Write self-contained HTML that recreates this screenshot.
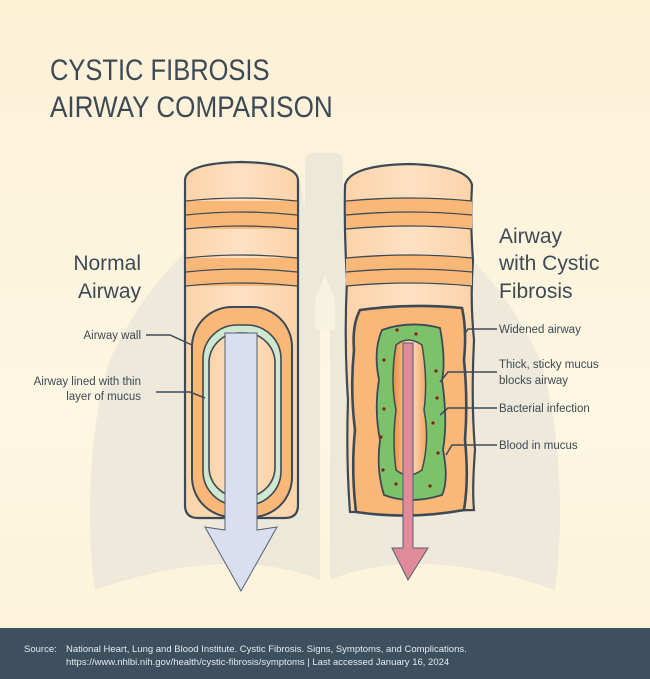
<!DOCTYPE html>
<html><head><meta charset="utf-8"><style>
html,body{margin:0;padding:0}
body{width:650px;height:679px;overflow:hidden;background:linear-gradient(180deg,#fdf1d6 0%,#fdf6e2 60%,#fdf3d9 100%);font-family:"Liberation Sans",sans-serif;position:relative}
svg{position:absolute;left:0;top:0}
</style></head><body>
<svg width="650" height="679" viewBox="0 0 650 679">
<defs>
<linearGradient id="pe" x1="0" x2="1"><stop offset="0" stop-color="#fcd3a8"/><stop offset="0.5" stop-color="#fde1c4"/><stop offset="1" stop-color="#fcd3a8"/></linearGradient>
<linearGradient id="lum" x1="0" x2="1"><stop offset="0" stop-color="#e8903f"/><stop offset="0.55" stop-color="#fcd9b5"/><stop offset="1" stop-color="#f2a865"/></linearGradient>
</defs>
<g fill="#ece8d9" opacity="0.9">
<rect x="305" y="153" width="38" height="170" rx="8"/>
<path d="M300 180 C230 200 150 270 110 360 C90 420 85 520 95 590 C180 560 260 555 320 580 L320 300 Z"/>
<path d="M348 180 C420 200 500 270 540 360 C560 420 565 520 555 590 C470 560 390 555 330 580 L330 300 Z"/>
</g>
<path d="M315 300 L325 275 L335 300 L335 330 L315 330 Z" fill="#f8f2e0"/>
<path d="M185 180 Q186 163 241 162 Q297 163 298 180 L298 505 Q298 518 285 518 L198 518 Q185 518 185 505 Z" fill="url(#pe)" stroke="#3d4a55" stroke-width="2.2"/>
<rect x="186" y="201" width="111" height="28" fill="#f9b878"/>
<rect x="186" y="258" width="111" height="28" fill="#f9b878"/>
<g stroke="#3d4a55" stroke-width="1.3" fill="none">
<path d="M186 201 Q241 195 297 201"/><path d="M186 215 Q241 209 297 215"/><path d="M186 229 Q241 223 297 229"/>
<path d="M186 258 Q241 252 297 258"/><path d="M186 272 Q241 266 297 272"/><path d="M186 286 Q241 280 297 286"/>
</g>
<rect x="192" y="307" width="100" height="210" rx="40" fill="#f9b878" stroke="#3d4a55" stroke-width="2"/>
<rect x="203" y="325" width="78" height="180" rx="34" fill="#cfe8cf" stroke="#3d4a55" stroke-width="1.6"/>
<rect x="209" y="333" width="66" height="164" rx="30" fill="url(#pe)" stroke="#3d4a55" stroke-width="1.6"/>
<path d="M225 333 L257 333 L257 530 L277 527 L241 591 L205 527 L225 530 Z" fill="#d9def0" stroke="#556070" stroke-width="1"/>
<path d="M345 185 Q350 165 410 164 Q468 166 472 185 Q470 220 473 260 Q470 300 474 340 Q471 400 475 450 Q472 490 474 510 L350 512 Q346 460 348 400 Q344 340 347 280 Q344 230 345 185 Z" fill="url(#pe)" stroke="#3d4a55" stroke-width="2.2"/>
<path d="M346 201 Q410 195 472 201 L472 229 Q410 223 346 229 Z" fill="#f9b878"/>
<path d="M346 258 Q410 252 472 258 L472 286 Q410 280 346 286 Z" fill="#f9b878"/>
<g stroke="#3d4a55" stroke-width="1.3" fill="none">
<path d="M346 201 Q410 195 472 201"/><path d="M346 215 Q410 209 472 215"/><path d="M346 229 Q410 223 472 229"/>
<path d="M346 258 Q410 252 472 258"/><path d="M346 272 Q410 266 472 272"/><path d="M346 286 Q410 280 472 286"/>
</g>
<path d="M360 310 Q410 303 462 308 Q467 330 464 360 Q468 400 465 440 Q469 480 464 510 Q410 520 356 512 Q351 470 355 430 Q350 390 354 350 Q352 325 360 310 Z" fill="#f9b878" stroke="#3d4a55" stroke-width="2.6"/>
<path d="M382 330 Q410 320 440 328 Q446 360 442 380 Q448 420 443 450 Q449 480 442 495 Q410 505 384 495 Q376 470 380 440 Q374 410 379 380 Q373 350 382 330 Z" fill="#7cc26a" stroke="#3d4a55" stroke-width="1.8"/>
<path d="M396 345 Q408 335 422 345 Q428 380 424 410 Q430 440 422 470 Q408 480 396 470 Q392 440 396 410 Q390 380 396 345 Z" fill="url(#lum)" stroke="#3d4a55" stroke-width="1.5"/>
<g fill="#8a1b1b">
<circle cx="397" cy="330" r="1.6"/><circle cx="416" cy="334" r="1.6"/><circle cx="384" cy="360" r="1.6"/><circle cx="436" cy="371" r="1.6"/><circle cx="437" cy="398" r="1.6"/><circle cx="384" cy="409" r="1.6"/><circle cx="433" cy="423" r="1.6"/><circle cx="381" cy="437" r="1.6"/><circle cx="438" cy="453" r="1.6"/><circle cx="383" cy="470" r="1.6"/><circle cx="430" cy="486" r="1.6"/><circle cx="396" cy="484" r="1.6"/>
</g>
<path d="M403 343 L413 343 L413 548 L428 548 L408 580 L392 548 L403 548 Z" fill="#e08a9a" stroke="#556070" stroke-width="1"/>
<g stroke="#3d4a55" stroke-width="1.5" fill="none">
<path d="M146 335 L170 335 L192 345"/>
<path d="M156 392 L190 392 L205 398"/>
<path d="M497 329 L468 329 L464 335"/>
<path d="M497 372 L448 372 L440 382"/>
<path d="M497 408 L448 408 L440 415"/>
<path d="M497 445 L452 445 L446 455"/>
</g>
<g font-family="Liberation Sans, sans-serif" fill="#3d4a55">
<text transform="translate(50,80) scale(0.85,1)" font-size="30">CYSTIC FIBROSIS</text>
<text transform="translate(50,117) scale(0.87,1)" font-size="30">AIRWAY COMPARISON</text>
<g font-size="21">
<text x="141" y="270" text-anchor="end">Normal</text>
<text x="141" y="298" text-anchor="end">Airway</text>
<text x="499" y="243">Airway</text>
<text x="499" y="270">with Cystic</text>
<text x="499" y="298">Fibrosis</text>
</g>
<g font-size="11.5">
<text x="141" y="339" text-anchor="end">Airway wall</text>
<text x="141" y="385" text-anchor="end">Airway lined with thin</text>
<text x="141" y="400" text-anchor="end">layer of mucus</text>
<text x="499" y="333">Widened airway</text>
<text x="499" y="368">Thick, sticky mucus</text>
<text x="499" y="384">blocks airway</text>
<text x="499" y="412">Bacterial infection</text>
<text x="499" y="449">Blood in mucus</text>
</g>
</g>
<rect x="0" y="628" width="650" height="51" fill="#3e4f5f"/>
<g font-family="Liberation Sans, sans-serif" font-size="9.5" fill="#e6ebef">
<text x="24" y="652">Source:</text>
<text x="66" y="652">National Heart, Lung and Blood Institute. Cystic Fibrosis. Signs, Symptoms, and Complications.</text>
<text x="66" y="665">https://www.nhlbi.nih.gov/health/cystic-fibrosis/symptoms | Last accessed January 16, 2024</text>
</g>
</svg>
</body></html>
